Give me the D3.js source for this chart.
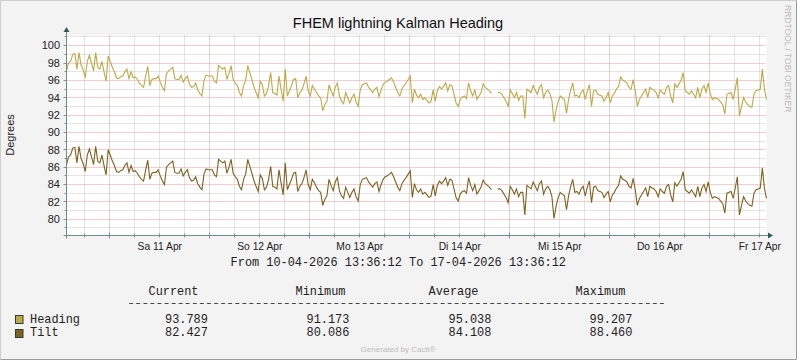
<!DOCTYPE html>
<html><head><meta charset="utf-8">
<script src="https://cdn.jsdelivr.net/npm/d3@7"></script>
<style>html,body{margin:0;padding:0;background:#f3f3f3;}svg{display:block;}</style>
</head><body>
<svg id="chart" width="797" height="360"></svg>
<script>
// ---- data (30-minute samples, 10-04-2026 13:36:12 .. 17-04-2026 13:36:12) ----
const startTime = "2026-04-10T13:36:12Z";
const endTime = "2026-04-17T13:36:12Z";
const stepMinutes = 30;
const heading = [
97.1,98.0,98.2,99.0,99.1,97.3,99.2,97.8,97.2,96.3,
98.2,98.9,98.0,97.1,99.2,97.5,97.3,98.2,97.0,95.9,
98.8,98.2,97.5,97.0,96.3,96.2,96.4,96.5,97.0,97.3,
96.2,97.0,96.3,96.4,96.1,95.7,95.4,95.2,96.5,97.6,
95.4,96.1,96.2,96.2,96.5,95.8,95.2,94.8,96.8,97.1,
97.3,97.5,96.2,96.1,96.1,96.6,95.8,96.2,96.5,95.6,
95.2,95.3,95.7,94.9,94.5,94.2,96.0,96.6,96.5,96.5,
96.5,95.9,95.7,97.7,97.5,97.3,97.5,96.1,96.8,97.7,
96.1,95.7,95.4,94.6,94.2,95.4,96.0,97.7,96.9,96.1,
95.2,94.6,94.0,95.9,95.5,94.2,94.5,95.4,96.9,94.6,
94.5,94.3,96.5,95.0,93.6,97.3,94.2,94.8,95.4,96.1,
96.2,94.0,94.6,94.9,95.6,96.5,94.8,94.2,95.4,95.0,
94.6,94.2,94.0,92.5,93.2,93.6,95.5,94.8,94.2,95.2,
95.7,94.2,93.6,93.3,94.6,94.0,93.4,94.0,94.4,93.5,
93.0,94.9,95.5,95.6,95.7,95.2,94.9,94.6,95.0,95.2,
94.1,94.9,95.5,95.8,95.9,96.1,96.3,95.8,95.2,94.6,
94.2,95.0,95.4,95.7,96.1,96.5,93.4,95.0,94.3,94.0,
94.4,93.8,94.0,93.7,93.4,93.6,94.9,93.6,94.8,95.3,
95.0,95.3,95.7,94.8,95.5,95.4,94.4,93.4,93.0,93.8,
94.1,94.2,93.9,95.7,94.8,94.2,94.9,93.8,94.2,94.6,
95.6,95.2,95.0,94.8,94.5,null,null,94.6,94.6,94.4,
94.0,93.6,93.0,94.9,94.5,94.0,94.6,93.7,94.2,94.2,
91.6,95.0,94.8,94.6,95.4,94.9,94.4,95.2,95.5,94.0,
94.6,94.9,94.5,93.7,91.2,92.6,93.6,94.2,94.0,93.8,
92.2,93.8,94.9,95.7,94.2,94.3,94.0,94.6,94.9,93.8,
94.8,95.5,93.0,94.8,94.9,94.4,94.3,94.2,93.6,94.0,
94.6,93.4,94.2,94.5,95.0,95.3,96.4,96.0,95.9,95.7,
95.2,95.0,96.1,94.8,93.0,93.8,94.2,94.6,95.0,94.0,
95.2,95.0,94.9,94.6,94.0,94.9,94.6,94.4,95.2,95.4,
94.2,93.4,95.6,95.2,95.6,96.0,96.9,94.8,94.6,94.4,
94.8,94.4,94.0,95.2,94.0,95.0,95.4,94.6,95.7,94.5,
93.8,94.0,93.9,93.8,93.5,93.2,92.1,94.4,94.5,94.6,
93.8,95.0,96.3,91.9,93.0,94.0,93.5,93.2,93.0,92.9,
94.4,94.8,94.9,95.0,97.3,95.0,93.8];
const tilt = [
86.3,87.2,87.4,88.2,88.3,86.5,88.4,87.0,86.4,85.5,
87.4,88.1,87.2,86.3,88.4,86.7,86.5,87.4,86.2,85.1,
88.0,87.4,86.7,86.2,85.5,85.4,85.6,85.7,86.2,86.5,
85.4,86.2,85.5,85.6,85.3,84.9,84.6,84.4,85.7,86.8,
84.6,85.3,85.4,85.4,85.7,85.0,84.4,84.0,86.0,86.3,
86.5,86.7,85.4,85.3,85.3,85.8,85.0,85.4,85.7,84.8,
84.4,84.5,84.9,84.1,83.7,83.4,85.2,85.8,85.7,85.7,
85.7,85.1,84.9,86.9,86.7,86.5,86.7,85.3,86.0,86.9,
85.3,84.9,84.6,83.8,83.4,84.6,85.2,86.9,86.1,85.3,
84.4,83.8,83.2,85.1,84.7,83.4,83.7,84.6,86.1,83.8,
83.7,83.5,85.7,84.2,82.8,86.5,83.4,84.0,84.6,85.3,
85.4,83.2,83.8,84.1,84.8,85.7,84.0,83.4,84.6,84.2,
83.7,83.3,83.1,81.6,82.3,82.7,84.6,83.9,83.3,84.3,
84.8,83.3,82.7,82.4,83.7,83.1,82.5,83.1,83.5,82.6,
82.1,84.0,84.6,84.7,84.8,84.3,84.0,83.7,84.1,84.3,
83.2,84.0,84.6,84.9,85.0,85.2,85.4,84.9,84.3,83.7,
83.3,84.1,84.5,84.8,85.2,85.6,82.5,84.1,83.4,83.1,
83.5,82.9,83.1,82.8,82.5,82.7,84.0,82.7,83.9,84.4,
84.1,84.4,84.8,83.9,84.6,84.5,83.5,82.5,82.1,82.9,
83.2,83.3,83.0,84.8,83.9,83.3,84.0,82.9,83.3,83.7,
84.5,84.1,83.9,83.7,83.4,null,null,83.5,83.5,83.3,
82.9,82.5,81.9,83.8,83.4,82.9,83.5,82.6,83.1,83.1,
80.5,83.9,83.7,83.5,84.3,83.8,83.3,84.1,84.4,82.9,
83.5,83.8,83.4,82.6,80.1,81.5,82.5,83.1,82.9,82.7,
81.1,82.7,83.8,84.6,83.1,83.2,82.9,83.5,83.8,82.7,
83.7,84.4,81.9,83.7,83.8,83.3,83.2,83.1,82.5,82.9,
83.2,82.0,82.8,83.1,83.6,83.9,85.0,84.6,84.5,84.3,
83.8,83.6,84.7,83.4,81.6,82.4,82.8,83.2,83.6,82.6,
83.8,83.6,83.5,83.2,82.6,83.5,83.2,83.0,83.8,84.0,
82.8,82.0,84.2,83.8,84.2,84.6,85.5,83.4,83.2,83.0,
83.4,83.0,82.6,83.8,82.6,83.6,84.0,83.2,84.3,83.1,
82.4,82.6,82.5,82.4,82.1,81.8,80.7,83.0,83.1,83.2,
82.4,83.6,84.9,80.5,81.6,82.6,82.1,81.8,81.6,81.5,
83.0,83.4,83.5,83.6,85.9,83.6,82.4];
const yTickValues = [80, 82, 84, 86, 88, 90, 92, 94, 96, 98, 100];
const xTickLabels = ["Sa 11 Apr", "So 12 Apr", "Mo 13 Apr", "Di 14 Apr", "Mi 15 Apr", "Do 16 Apr", "Fr 17 Apr"];
const xTickNoons = ["2026-04-11T12:00:00Z","2026-04-12T12:00:00Z","2026-04-13T12:00:00Z","2026-04-14T12:00:00Z","2026-04-15T12:00:00Z","2026-04-16T12:00:00Z","2026-04-17T12:00:00Z"];
const legendHeaders = ["Current", "Minimum", "Average", "Maximum"];
const headingStats = ["93.789", "91.173", "95.038", "99.207"];
const tiltStats = ["82.427", "80.086", "84.108", "88.460"];
const colors = {Heading: "#bea948", Tilt: "#7d6220"};

// ---- drawing ----
const svg = d3.select("#chart");
const W = 797, H = 360;
const L = 66.5, R = 766.5, T = 35.5, B = 235.5;
const t0 = new Date(startTime), t1 = new Date(endTime);
const x = d3.scaleUtc().domain([t0, t1]).range([L, R]);
const y = d3.scaleLinear().domain([78.13, 101.17]).range([B, T]);
const snap = v => Math.round(v - 0.5) + 0.5;

svg.append("rect").attr("width", W).attr("height", H).attr("fill", "#f3f3f3");
// frame
svg.append("line").attr("x1",0.5).attr("y1",0.5).attr("x2",W-0.5).attr("y2",0.5).attr("stroke","#cfcfcf");
svg.append("line").attr("x1",0.5).attr("y1",0.5).attr("x2",0.5).attr("y2",H-0.5).attr("stroke","#cfcfcf");
svg.append("line").attr("x1",W-0.5).attr("y1",0.5).attr("x2",W-0.5).attr("y2",H-0.5).attr("stroke","#9a9a9a");
svg.append("line").attr("x1",0.5).attr("y1",H-0.5).attr("x2",W-0.5).attr("y2",H-0.5).attr("stroke","#9a9a9a");

svg.append("rect").attr("x", L).attr("y", T).attr("width", R - L).attr("height", B - T).attr("fill", "#ffffff");

// horizontal grid
const hg = svg.append("g");
d3.range(79, 102).forEach(v => {
  const yy = snap(y(v));
  const major = v % 2 === 0;
  hg.append("line").attr("x1", L).attr("x2", R).attr("y1", yy).attr("y2", yy)
    .attr("stroke", major ? "#e59a9a" : "#c9c9c9").attr("stroke-dasharray", "1,1");
  hg.append("line").attr("x1", L - (major ? 3 : 2)).attr("x2", L).attr("y1", yy).attr("y2", yy)
    .attr("stroke", "#7d9590");
});
// vertical grid
const vg = svg.append("g");
x.ticks(d3.utcHour.every(6)).forEach(d => {
  const xx = snap(x(d));
  if (xx <= L + 1) return;
  const major = d.getUTCHours() === 0;
  vg.append("line").attr("x1", xx).attr("x2", xx).attr("y1", T).attr("y2", B)
    .attr("stroke", major ? "#e59a9a" : "#c9c9c9").attr("stroke-dasharray", "1,1");
  vg.append("line").attr("x1", xx).attr("x2", xx).attr("y1", B - (major ? 3 : 2)).attr("y2", B + (major ? 3 : 2))
    .attr("stroke", "#7d9590");
});

// series
const timeAt = i => new Date(t0.getTime() + i * stepMinutes * 60e3);
const line = d3.line().defined(d => d.v != null).x(d => x(d.t)).y(d => y(d.v));
[[heading, "Heading"], [tilt, "Tilt"]].forEach(([arr, name]) => {
  const pts = arr.map((v, i) => ({t: timeAt(i), v: v}));
  svg.append("path").datum(pts).attr("d", line).attr("fill", "none")
    .attr("stroke", colors[name]).attr("stroke-width", 1.1).attr("stroke-linejoin", "miter");
});

// axes
const axisColor = "#6f8c86", arrowColor = "#2f5c53";
svg.append("line").attr("x1", L).attr("x2", L).attr("y1", B + 3).attr("y2", 31).attr("stroke", axisColor);
svg.append("line").attr("x1", L - 3).attr("x2", 769).attr("y1", B).attr("y2", B).attr("stroke", axisColor);
svg.append("path").attr("d", `M${L-3},32 L${L+3},32 L${L},27 Z`).attr("fill", arrowColor);
svg.append("path").attr("d", `M768,${B-3} L768,${B+3} L773,${B} Z`).attr("fill", arrowColor);

// y tick labels
const sans = "'Liberation Sans', Arial, sans-serif";
const mono = "'Liberation Mono', 'DejaVu Sans Mono', monospace";
svg.append("g").selectAll("text").data(yTickValues).join("text")
  .attr("x", 60).attr("y", d => y(d) + 3.8).attr("text-anchor", "end")
  .attr("font-family", sans).attr("font-size", 11).attr("fill", "#222").text(d => d);
// x tick labels
svg.append("g").selectAll("text").data(xTickLabels).join("text")
  .attr("x", (d, i) => x(new Date(xTickNoons[i]))).attr("y", 249.5).attr("text-anchor", "middle")
  .attr("font-family", sans).attr("font-size", 10.3).attr("fill", "#222").text(d => d);

// title
svg.append("text").attr("x", 398).attr("y", 28).attr("text-anchor", "middle")
  .attr("font-family", sans).attr("font-size", 14.5).attr("fill", "#111").text("FHEM lightning Kalman Heading");
// y axis title
svg.append("text").attr("transform", "translate(14,135) rotate(-90)").attr("text-anchor", "middle")
  .attr("font-family", sans).attr("font-size", 11).attr("fill", "#222").text("Degrees");
// watermark
svg.append("text").attr("transform", "translate(785,5) rotate(90)").attr("text-anchor", "start")
  .attr("font-family", sans).attr("font-size", 8.5).attr("fill", "#bababa").text("RRDTOOL / TOBI OETIKER");

// from-to
svg.append("text").attr("x", 398.3).attr("y", 266).attr("text-anchor", "middle")
  .attr("font-family", mono).attr("font-size", 11.9).attr("fill", "#222")
  .text("From 10-04-2026 13:36:12 To 17-04-2026 13:36:12");

// legend table
const headerX = [148.5, 295.5, 428.5, 575.5];
const valueX = [165, 306.5, 448.5, 589.5];
legendHeaders.forEach((h, i) => {
  svg.append("text").attr("x", headerX[i]).attr("y", 294.5).attr("font-family", mono)
    .attr("font-size", 11.9).attr("fill", "#222").text(h);
});
// separator row of dashes (vertically compressed so it does not collide with the header row)
svg.append("text").attr("transform", "translate(127.5,305.2) scale(1,0.6)")
  .attr("font-family", mono).attr("font-size", 11.9)
  .attr("fill", "#222").attr("stroke", "#222").attr("stroke-width", 0.35)
  .attr("textLength", 538).attr("lengthAdjust", "spacing").text("-".repeat(76));
[[headingStats, "Heading", 322.8, 315.5], [tiltStats, "Tilt", 336.3, 329.5]].forEach(([stats, name, by, ry]) => {
  svg.append("rect").attr("x", 15.5).attr("y", ry).attr("width", 7.5).attr("height", 8)
    .attr("fill", colors[name]).attr("stroke", "#2e3f38").attr("stroke-width", 1);
  svg.append("text").attr("x", 30).attr("y", by).attr("font-family", mono).attr("font-size", 11.9)
    .attr("fill", "#222").text(name);
  stats.forEach((s, i) => {
    svg.append("text").attr("x", valueX[i]).attr("y", by).attr("font-family", mono).attr("font-size", 11.9)
      .attr("fill", "#222").text(s);
  });
});
// footer
svg.append("text").attr("x", 398).attr("y", 352).attr("text-anchor", "middle")
  .attr("font-family", sans).attr("font-size", 8).attr("fill", "#bcbcbc").text("Generated by Cacti®");
</script>
</body></html>
